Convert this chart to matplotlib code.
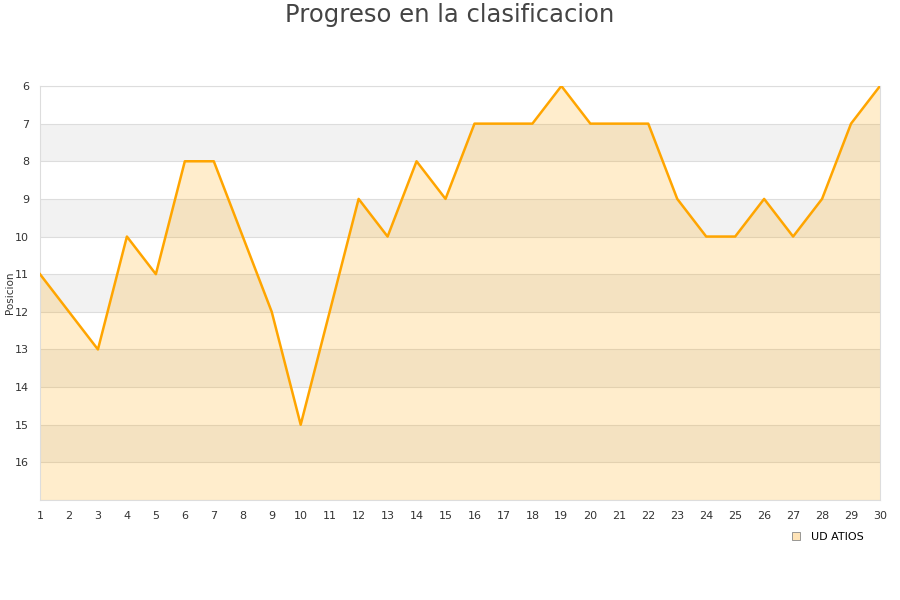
import matplotlib
matplotlib.use("Agg")
import matplotlib.pyplot as plt
from matplotlib.lines import Line2D

jornadas = list(range(1, 31))
posiciones = [11, 12, 13, 10, 11, 8, 8, 10, 12, 15, 12, 9, 10, 8, 9, 7, 7, 7, 6, 7,
              7, 7, 9, 10, 10, 9, 10, 9, 7, 6]
y_ticks = list(range(6, 17))
team = "UD ATIOS"
title = "Progreso en la clasificacion"

fig = plt.figure(figsize=(9, 6), dpi=100)
ax = fig.add_axes([40/900, 1-500/600, 840/900, 414/600])

ymin, ymax = 6, 17
for v in range(ymin, ymax):
    if (v - ymin) % 2 == 1:
        ax.axhspan(v, v + 1, color="#F2F2F2", zorder=0, lw=0)
for v in range(ymin, ymax + 1):
    ax.axhline(v, color="#DDDDDD", lw=0.8, zorder=1)

ax.fill_between(jornadas, posiciones, ymax, color="#FFA500", alpha=0.2, lw=0, zorder=2)
ax.plot(jornadas, posiciones, color="#FFA500", lw=1.8, zorder=3)

ax.set_xlim(1, 30)
ax.set_ylim(ymax, ymin)
ax.set_yticks(y_ticks)
ax.set_xticks(jornadas)
ax.tick_params(axis="both", length=0, labelsize=8, colors="#333333")
ax.tick_params(axis="y", pad=8)
ax.tick_params(axis="x", pad=8)
for s in ax.spines.values():
    s.set_color("#DDDDDD")
    s.set_linewidth(0.8)

fig.text(9.5/900, 1-293/600, "Posicion", rotation=90, ha="center", va="center",
         fontsize=7.5, color="#333333")

fig.text(0.5, 1-15/600, title, ha="center", va="center", fontsize=17.5, color="#444444")

handle = Line2D([], [], marker="s", linestyle="none", markersize=6,
                markerfacecolor="#FFE4B8", markeredgecolor="#888888", markeredgewidth=0.6)
fig.legend([handle], [team], loc="center left", bbox_to_anchor=(785/900, 1-537/600),
           frameon=False, fontsize=8, handletextpad=0.3, borderaxespad=0, borderpad=0)

fig.savefig("out.png", dpi=100)
